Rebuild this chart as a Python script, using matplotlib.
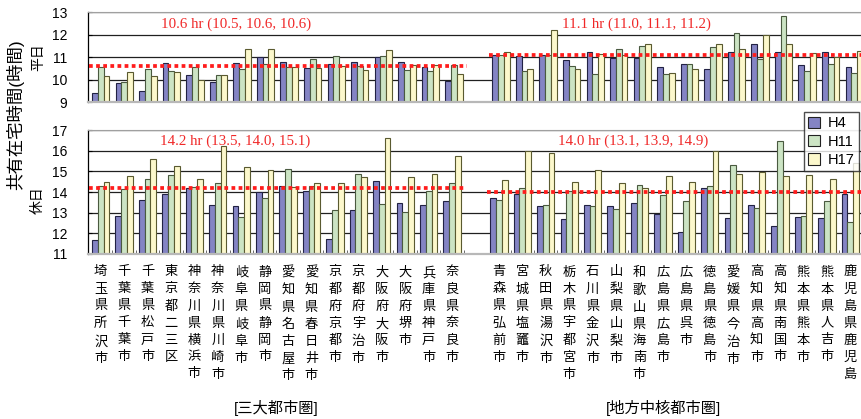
import numpy as np
import matplotlib
matplotlib.use('Agg')
import matplotlib.pyplot as plt
from matplotlib.patches import Patch

plt.rcParams['font.family'] = ['Liberation Sans', 'Noto Sans CJK JP']

# cities of the two regions
metro_cities = ['埼玉県所沢市', '千葉県千葉市', '千葉県松戸市', '東京都二三区', '神奈川県横浜市', '神奈川県川崎市',
                '岐阜県岐阜市', '静岡県静岡市', '愛知県名古屋市', '愛知県春日井市', '京都府京都市', '京都府宇治市',
                '大阪府大阪市', '大阪府堺市', '兵庫県神戸市', '奈良県奈良市']
local_cities = ['青森県弘前市', '宮城県塩竈市', '秋田県湯沢市', '栃木県宇都宮市', '石川県金沢市', '山梨県山梨市',
                '和歌山県海南市', '広島県広島市', '広島県呉市', '徳島県徳島市', '愛媛県今治市', '高知県高知市',
                '高知県南国市', '熊本県熊本市', '熊本県人吉市', '鹿児島県鹿児島']
years = ['H4', 'H11', 'H17']

# weekday hours, metro / local
wd_metro_h4 = [9.40, 9.84, 9.52, 10.76, 10.23, 9.90, 10.76, 11.00, 10.80, 10.51, 10.72, 10.78, 11.00, 10.78, 10.56, 9.95]
wd_metro_h11 = [10.59, 9.89, 10.48, 10.38, 10.56, 10.23, 10.48, 10.70, 10.58, 10.93, 11.07, 10.60, 11.04, 10.44, 10.39, 10.64]
wd_metro_h17 = [10.17, 10.33, 10.17, 10.33, 10.00, 10.23, 11.36, 11.36, 10.58, 10.51, 10.60, 10.44, 11.31, 10.64, 10.64, 10.27]
wd_local_h4 = [11.12, 11.07, 11.09, 10.90, 11.24, 10.99, 10.99, 10.58, 10.70, 10.48, 11.24, 11.57, 11.24, 10.64, 11.24, 10.58]
wd_local_h11 = [11.10, 10.37, 11.09, 10.63, 10.27, 11.39, 11.51, 10.27, 10.70, 11.45, 12.06, 10.94, 12.85, 10.37, 10.69, 10.31]
wd_local_h17 = [11.24, 10.49, 12.21, 10.49, 11.13, 11.09, 11.61, 10.31, 10.48, 11.61, 11.39, 12.00, 11.61, 11.19, 11.01, 11.30]

# holiday hours, metro / local
hd_metro_h4 = [11.68, 12.85, 13.61, 13.90, 14.21, 13.37, 13.32, 14.00, 14.31, 14.06, 11.73, 13.13, 14.53, 13.48, 13.37, 13.55]
hd_metro_h11 = [14.31, 14.13, 14.61, 14.84, 14.26, 14.42, 12.77, 13.73, 15.11, 14.31, 13.13, 14.89, 13.42, 13.02, 14.06, 14.42]
hd_metro_h17 = [14.47, 14.76, 15.58, 15.24, 14.61, 16.23, 15.23, 15.05, 14.25, 14.42, 14.42, 14.73, 16.63, 14.71, 14.89, 15.76]
hd_local_h4 = [13.73, 13.89, 13.32, 12.68, 13.39, 13.32, 13.48, 12.95, 12.08, 14.18, 12.73, 13.37, 12.37, 12.77, 12.73, 13.92]
hd_local_h11 = [13.60, 14.21, 13.37, 14.06, 13.31, 13.19, 14.35, 13.85, 13.55, 14.31, 15.31, 13.24, 16.47, 12.85, 13.55, 12.56]
hd_local_h17 = [14.60, 16.00, 15.87, 14.47, 15.05, 14.42, 14.18, 14.76, 14.47, 16.00, 14.89, 14.98, 14.76, 14.82, 14.61, 15.42]

# averages: all years, (H4, H11, H17)
wd_metro_avg = [10.6, 10.5, 10.6, 10.6]
wd_local_avg = [11.1, 11.0, 11.1, 11.2]
hd_metro_avg = [14.2, 13.5, 14.0, 15.1]
hd_local_avg = [14.0, 13.1, 13.9, 14.9]

colors = ['#8484c4', '#cce4c4', '#fcf8cc']
edges = ['#222244', '#4a5a40', '#5a5a30']

n = len(metro_cities)
x_metro = np.arange(n)
x_local = np.arange(n) + n + 1
w = 0.246

fig = plt.figure(figsize=(8.62, 4.19), dpi=100)
ax1 = fig.add_axes([0.1021, 0.7558, 0.8979, 0.2148])
ax2 = fig.add_axes([0.1021, 0.3938, 0.8979, 0.2959])


def draw_panel(ax, metro, local, metro_avg, local_avg, ylim, text_y):
    for k in range(3):
        ax.bar(x_metro + (k - 1) * w, metro[k], w, color=colors[k], edgecolor=edges[k], lw=0.8, zorder=2)
        ax.bar(x_local + (k - 1) * w, local[k], w, color=colors[k], edgecolor=edges[k], lw=0.8, zorder=2)
    for xs, avg in [(x_metro, metro_avg), (x_local, local_avg)]:
        ax.plot([xs[0] - 0.5, xs[-1] + 0.55], [avg[0], avg[0]], color='#ff1c1c', lw=2.7,
                ls=(0, (1, 0.9)), zorder=3)
        ax.text((xs[0] + xs[-1]) / 2 - 1.75, text_y,
                '%.1f hr (%.1f, %.1f, %.1f)' % tuple(avg), color='#f02828',
                family='Liberation Serif', fontsize=10.8, ha='center', va='center', zorder=4)
    ax.set_ylim(*ylim)
    ax.set_xlim(-0.54, 32.33)
    ax.set_yticks(np.arange(ylim[0], ylim[1] + 1))
    ax.grid(axis='y', color='#202020', lw=0.9, zorder=0)
    ax.spines['right'].set_visible(False)
    ax.spines['top'].set_color('#a0a0a0')
    ax.spines['bottom'].set_color('#b8b8b8')
    ax.spines['bottom'].set_linewidth(1.6)
    ax.spines['left'].set_linewidth(0.9)
    ax.tick_params(axis='y', direction='in', length=3, labelsize=10, pad=15)


draw_panel(ax1, [wd_metro_h4, wd_metro_h11, wd_metro_h17], [wd_local_h4, wd_local_h11, wd_local_h17],
           wd_metro_avg, wd_local_avg, (9, 13), 12.48)
draw_panel(ax2, [hd_metro_h4, hd_metro_h11, hd_metro_h17], [hd_local_h4, hd_local_h11, hd_local_h17],
           hd_metro_avg, hd_local_avg, (11, 17), 16.47)

ax1.set_xticks([])
ax2.set_xticks(list(x_metro) + list(x_local))
ax2.set_xticklabels(['\n'.join(c) for c in metro_cities + local_cities], fontsize=9.5,
                    linespacing=1.55, va='top')
ax2.tick_params(axis='x', length=0, pad=9)
ax2.set_xticks(list(x_metro + 0.5) + list(x_local + 0.5), minor=True)
ax2.tick_params(axis='x', which='minor', direction='in', length=3, color='#505050')

# axis titles
fig.text(15 / 862, 1 - 115 / 419, '共有在宅時間(時間)', rotation=90, ha='center', va='center', fontsize=12.5)
fig.text(38 / 862, 1 - 57 / 419, '平日', rotation=90, ha='center', va='center', fontsize=10)
fig.text(38 / 862, 1 - 200 / 419, '休日', rotation=90, ha='center', va='center', fontsize=10)

# region captions
fig.text(276 / 862, 1 - 408 / 419, '[三大都市圏]', ha='center', va='center', fontsize=11)
fig.text(664 / 862, 1 - 408 / 419, '[地方中核都市圏]', ha='center', va='center', fontsize=11)

handles = [Patch(facecolor=colors[k], edgecolor='#222222', lw=0.8) for k in range(3)]
fig.legend(handles, years, loc='upper left', bbox_to_anchor=(804 / 862, 1 - 112 / 419),
           frameon=True, fancybox=False, edgecolor='#222222', fontsize=10.5,
           handlelength=0.8, handleheight=0.8, handletextpad=0.5, borderpad=0.3,
           labelspacing=0.3, borderaxespad=0)

fig.savefig('out.png', dpi=100)
